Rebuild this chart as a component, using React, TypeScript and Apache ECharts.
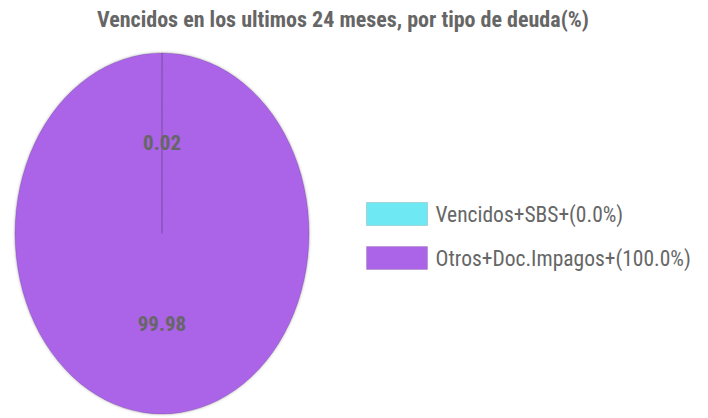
import React, { useEffect, useRef } from "react";
import * as echarts from "echarts";

const title = "Vencidos en los ultimos 24 meses, por tipo de deuda(%)";
const categories = ["Vencidos+SBS+(0.0%)", "Otros+Doc.Impagos+(100.0%)"];
const values = [0.02, 99.98];
const colors = ["#6ee8f3", "#ab63e8"];

const FONT = "'Roboto Condensed', 'Roboto', sans-serif";

export default function App() {
  const ref = useRef<HTMLDivElement>(null);
  useEffect(() => {
    if (!ref.current) return;
    const chart = echarts.init(ref.current, null, { renderer: "svg" });
    const total = values.reduce((a, b) => a + b, 0);
    const cx = 162;
    const cy = 233.5;
    const rx = 147;
    const ry = 180.5;

    const renderItem = (params: any, api: any) => {
      const idx = params.seriesIndex;
      let cum = 0;
      for (let i = 0; i < idx; i++) cum += values[i];
      const v = api.value(0);
      const start = -Math.PI / 2 + (2 * Math.PI * cum) / total;
      const end = start + (2 * Math.PI * v) / total;
      const x0 = cx + rx * Math.cos(start);
      const y0 = cy + ry * Math.sin(start);
      const x1 = cx + rx * Math.cos(end);
      const y1 = cy + ry * Math.sin(end);
      const large = end - start > Math.PI ? 1 : 0;
      const pathData = `M${cx} ${cy} L${x0} ${y0} A${rx} ${ry} 0 ${large} 1 ${x1} ${y1} Z`;
      const mid = (start + end) / 2;
      const lx = cx + (rx / 2) * Math.cos(mid);
      const ly = cy + (ry / 2) * Math.sin(mid);
      return {
        type: "group",
        children: [
          {
            type: "path",
            shape: { pathData },
            style: {
              fill: api.visual("color"),
              stroke: "rgba(60,40,80,0.22)",
              lineWidth: 1,
              shadowBlur: 3,
              shadowColor: "rgba(0,0,0,0.3)",
            },
          },
          {
            type: "text",
            z2: 10,
            style: {
              text: String(v),
              x: lx,
              y: ly,
              align: "center",
              verticalAlign: "middle",
              fill: "#666666",
              font: `bold 21px ${FONT}`,
            },
          },
        ],
      };
    };

    chart.setOption({
      animation: false,
      title: {
        text: title,
        left: 92,
        top: 3,
        textStyle: {
          fontFamily: FONT,
          fontWeight: "bold",
          fontSize: 22,
          color: "#666666",
        },
      },
      legend: {
        orient: "vertical",
        left: 361,
        top: 197,
        itemWidth: 61,
        itemHeight: 23,
        itemGap: 20,
        icon: "rect",
        data: categories,
        itemStyle: { borderColor: "rgba(0,0,0,0.12)", borderWidth: 1 },
        textStyle: {
          fontFamily: FONT,
          fontSize: 21.5,
          color: "#666666",
          padding: [0, 0, 0, 3],
        },
      },
      series: categories.map((name, i) => ({
        type: "custom",
        name,
        coordinateSystem: "none",
        itemStyle: { color: colors[i] },
        data: [[values[i]]],
        renderItem,
      })),
    });
    return () => chart.dispose();
  }, []);

  return (
    <div
      ref={ref}
      style={{ position: "absolute", left: 0, top: 0, width: 708, height: 418 }}
    />
  );
}
